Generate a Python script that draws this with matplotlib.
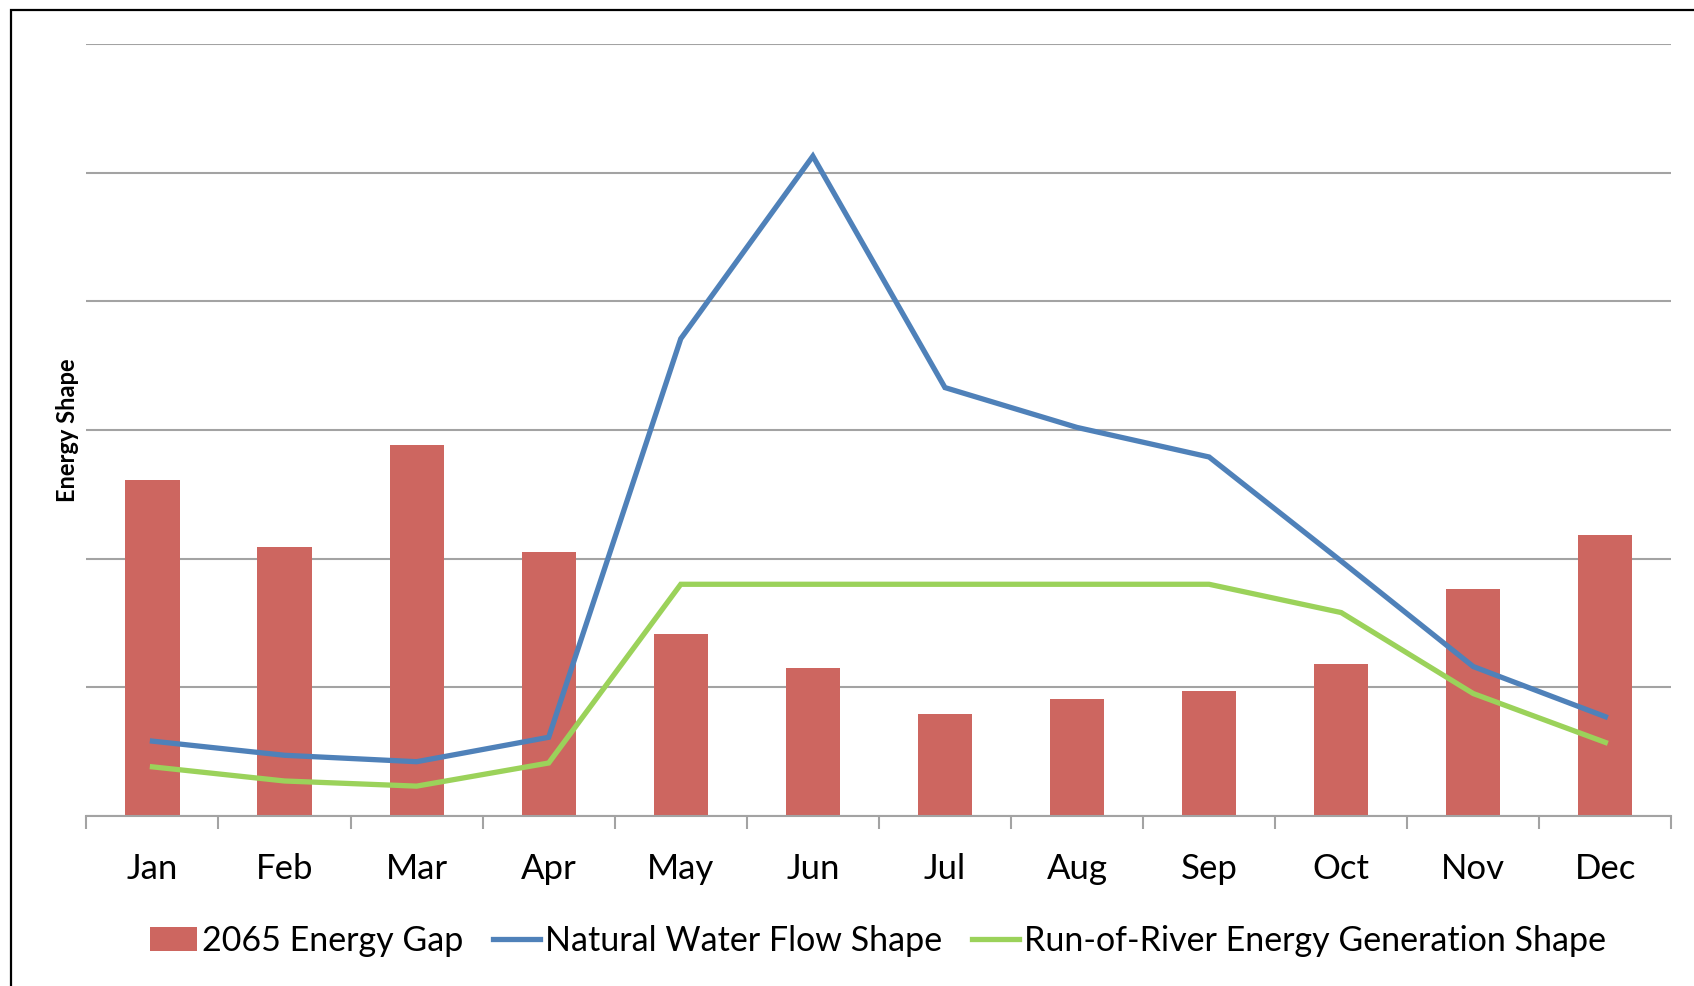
import matplotlib
matplotlib.use("Agg")
import matplotlib.pyplot as plt
from matplotlib.patches import Rectangle

# Monthly shapes (arbitrary energy units)
MONTHS = ["Jan", "Feb", "Mar", "Apr", "May", "Jun",
          "Jul", "Aug", "Sep", "Oct", "Nov", "Dec"]
ENERGY_GAP_2065 = [2.61, 2.09, 2.88, 2.05, 1.41, 1.15,
                   0.79, 0.91, 0.97, 1.18, 1.76, 2.18]
NATURAL_FLOW = [0.58, 0.47, 0.42, 0.61, 3.71, 5.13,
                3.33, 3.02, 2.79, 1.98, 1.16, 0.77]
RUN_OF_RIVER = [0.38, 0.27, 0.23, 0.41, 1.80, 1.80,
                1.80, 1.80, 1.80, 1.58, 0.95, 0.57]

RED = "#CD6660"
BLUE = "#4F81B9"
GREEN = "#9BD25A"
GRID = "#A3A3A3"

plt.rcParams["font.family"] = ["Lato", "DejaVu Sans"]

W, H = 1694, 986
fig = plt.figure(figsize=(W / 100, H / 100), dpi=100)
ax = fig.add_axes([86.4 / W, 1 - 815.7 / H, 1585 / W, 771.4 / H])

x = list(range(len(MONTHS)))
bars = ax.bar(x, ENERGY_GAP_2065, width=0.41, color=RED, zorder=2,
              label="2065 Energy Gap")
flow, = ax.plot(x, NATURAL_FLOW, color=BLUE, lw=3.8, zorder=3,
                solid_joinstyle="miter", label="Natural Water Flow Shape")
ror, = ax.plot(x, RUN_OF_RIVER, color=GREEN, lw=3.8, zorder=3,
               solid_joinstyle="miter",
               label="Run-of-River Energy Generation Shape")

ax.set_xlim(-0.5, 11.5)
ax.set_ylim(0, 6)

# horizontal gridlines, no y tick labels
ax.set_yticks(range(0, 7))
ax.set_yticklabels([])
ax.tick_params(axis="y", length=0)
ax.yaxis.grid(True, color=GRID, lw=1.5, zorder=0)

# month labels in the middle, tick marks on category boundaries
ax.set_xticks(x)
ax.set_xticklabels(MONTHS, fontsize=25)
ax.set_xticks([i - 0.5 for i in range(13)], minor=True)
ax.tick_params(axis="x", which="major", length=0, pad=27)
ax.tick_params(axis="x", which="minor", length=9, width=1.5, color=GRID)

for side in ["top", "right", "left"]:
    ax.spines[side].set_visible(False)
ax.spines["bottom"].set_color(GRID)
ax.spines["bottom"].set_linewidth(1.5)

fig.text(67 / W, 1 - 430 / H, "Energy Shape", rotation=90, fontsize=17,
         fontweight="bold", ha="center", va="center")

fig.legend(handles=[bars, flow, ror], loc="center",
           bbox_to_anchor=(878 / W, 1 - 941 / H), ncol=3,
           frameon=False, fontsize=24.5, handlelength=1.4, handletextpad=0.15,
           columnspacing=0.85)

# chart border (only the left and top edges fall inside the image)
fig.add_artist(Rectangle((11 / W, -0.1), 1.2, 1 - 10 / H + 0.1,
                         transform=fig.transFigure, fill=False,
                         edgecolor="black", lw=1.6))

fig.savefig("out.png", dpi=100)
